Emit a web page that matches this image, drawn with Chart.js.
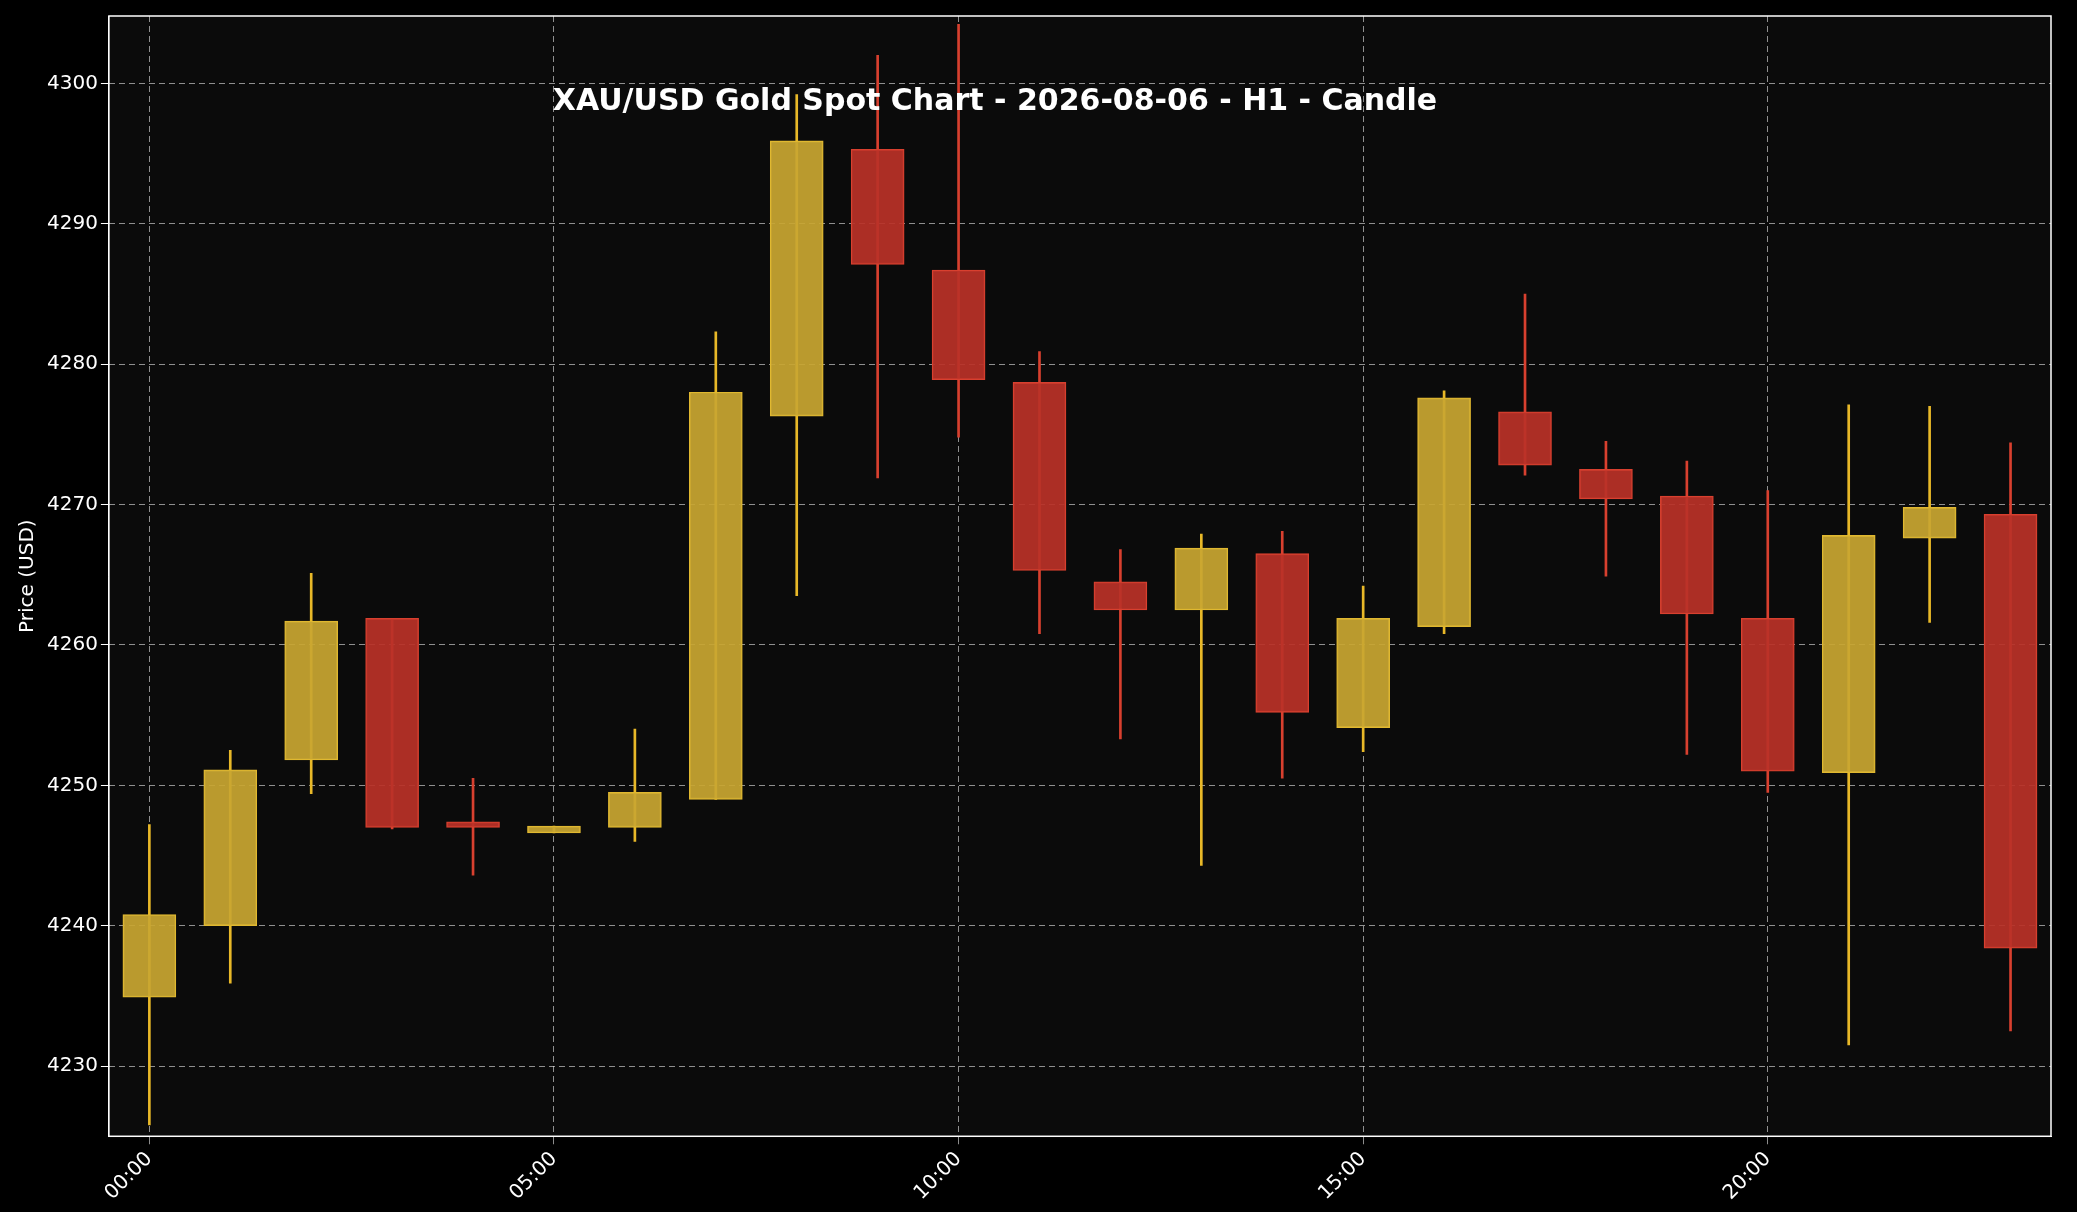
<!DOCTYPE html>
<html><head><meta charset="utf-8">
<script src="https://cdn.jsdelivr.net/npm/chart.js@4"></script>
<style>html,body{margin:0;background:#000;}#w{width:2077px;height:1212px;}</style>
</head><body><div id="w"><canvas id="c"></canvas></div>
<script>
const hours = ['00:00','01:00','02:00','03:00','04:00','05:00','06:00','07:00','08:00','09:00','10:00','11:00','12:00','13:00','14:00','15:00','16:00','17:00','18:00','19:00','20:00','21:00','22:00','23:00'];
const opens  = [4234.9,4240.0,4251.8,4261.9,4247.4,4246.6,4247.0,4249.0,4276.3,4295.3,4286.7,4278.7,4264.5,4262.5,4266.5,4254.1,4261.3,4276.6,4272.5,4270.6,4261.9,4250.9,4267.6,4269.3];
const closes = [4240.8,4251.1,4261.7,4247.0,4247.0,4247.1,4249.5,4278.0,4295.9,4287.1,4278.9,4265.3,4262.5,4266.9,4255.2,4261.9,4277.6,4272.8,4270.4,4262.2,4251.0,4267.8,4269.8,4238.4];
const highs  = [4247.2,4252.5,4265.1,4261.9,4250.5,4247.1,4254.0,4282.3,4299.2,4302.0,4304.2,4280.9,4266.8,4267.9,4268.1,4264.2,4278.1,4285.0,4274.5,4273.1,4271.0,4277.1,4277.0,4274.4];
const lows   = [4225.8,4235.9,4249.4,4246.9,4243.6,4246.6,4246.0,4249.0,4263.5,4271.9,4274.8,4260.8,4253.3,4244.3,4250.5,4252.4,4260.8,4272.1,4264.9,4252.2,4249.5,4231.5,4261.6,4232.5];
const yTicks = [4230,4240,4250,4260,4270,4280,4290,4300];

const idx = hours.map((_,i)=>i);
const up = idx.map(i => closes[i] >= opens[i]);
const bodyFill = up.map(u => u ? 'rgba(200,166,50,0.93)' : 'rgba(185,50,40,0.93)');
const bodyLine = up.map(u => u ? '#e0b830' : '#d8402f');
const wickCol = up.map(u => u ? '#e8b828' : '#d8402f');

const bgPlugin = {id:'bg', beforeDraw(c){const a=c.chartArea,x=c.ctx;x.save();x.fillStyle='#000';x.fillRect(0,0,c.width,c.height);x.fillStyle='#0b0b0b';x.fillRect(a.left,a.top,a.right-a.left,a.bottom-a.top);x.restore();},
 afterDraw(c){const a=c.chartArea,x=c.ctx;x.save();x.fillStyle='#fff';x.font='bold 30px "DejaVu Sans"';x.textAlign='center';x.textBaseline='middle';x.fillText('XAU/USD Gold Spot Chart - 2026-08-06 - H1 - Candle',995,102);
 x.strokeStyle='#fff';x.lineWidth=1.5;x.strokeRect(a.left,a.top,a.right-a.left,a.bottom-a.top);x.restore();}};

const gridCol = c => (c.index % 5 === 0 ? 'rgba(255,255,255,0.55)' : 'rgba(0,0,0,0)');

new Chart(document.getElementById('c'), {
  type:'bar',
  data:{labels:hours, datasets:[
    {data:idx.map(i=>[lows[i],highs[i]]), backgroundColor:wickCol, borderWidth:0, barThickness:2, grouped:false, order:2},
    {data:idx.map(i=>[opens[i],closes[i]]), backgroundColor:bodyFill, borderColor:bodyLine, borderWidth:1.3, borderSkipped:false, barThickness:53, grouped:false, order:1}
  ]},
  options:{responsive:true,maintainAspectRatio:false,animation:false,
    layout:{padding:{top:16,right:26,left:12,bottom:4}},
    plugins:{legend:{display:false},tooltip:{enabled:false}},
    scales:{
      x:{offset:true,
        ticks:{color:'#fff',font:{size:20,family:'DejaVu Sans'},maxRotation:45,minRotation:45,autoSkip:false,
          callback:(v,i)=> i%5===0 ? hours[i] : ''},
        grid:{offset:false,color:gridCol,tickColor:gridCol,tickLength:8},
        border:{color:'#fff',dash:[6,4]}},
      y:{min:4225,max:4304.8,
        afterBuildTicks:s=>{s.ticks=yTicks.map(v=>({value:v}));},
        ticks:{color:'#fff',font:{size:20,family:'DejaVu Sans'},callback:v=>String(v)},
        title:{display:true,text:'Price (USD)',color:'#fff',font:{size:20,family:'DejaVu Sans'}},
        grid:{color:'rgba(255,255,255,0.55)',tickColor:'#fff',tickLength:8},
        border:{color:'#fff',dash:[6,4]}}
    }},
  plugins:[bgPlugin]
});
</script></body></html>
